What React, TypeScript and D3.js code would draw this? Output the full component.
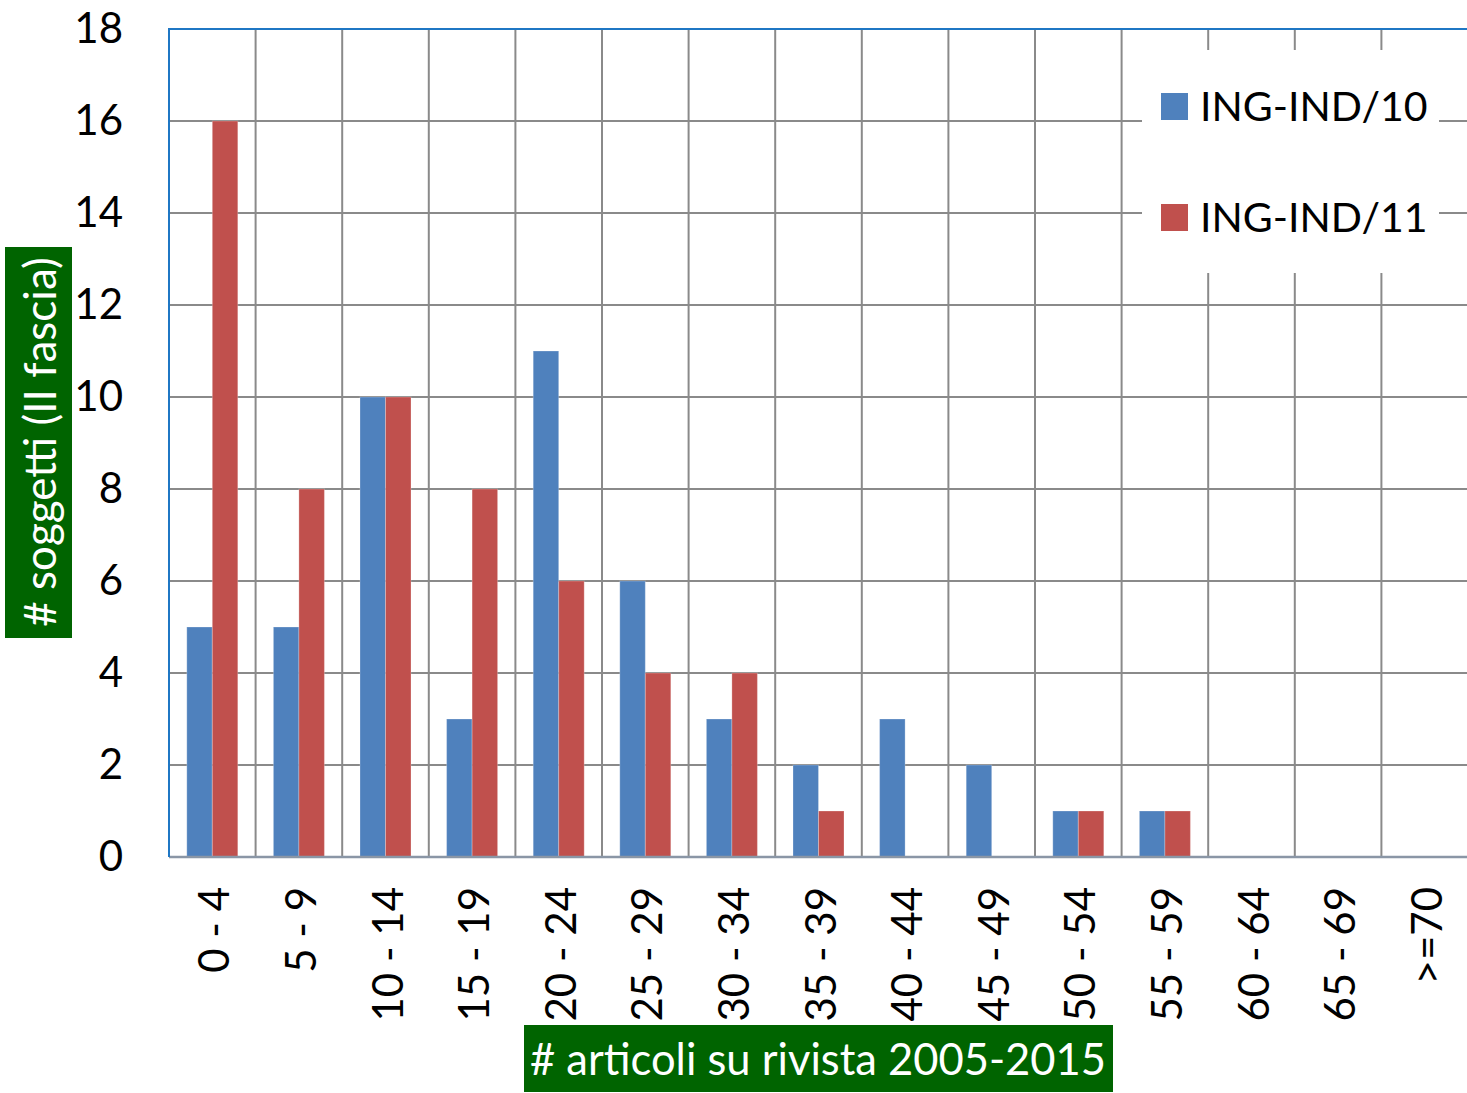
import React from 'react';
import * as d3 from 'd3';

const categories = ['0 - 4', '5 - 9', '10 - 14', '15 - 19', '20 - 24', '25 - 29', '30 - 34', '35 - 39', '40 - 44', '45 - 49', '50 - 54', '55 - 59', '60 - 64', '65 - 69', '>=70'];
const seriesNames = ['ING-IND/10', 'ING-IND/11'];
const ingInd10 = [5, 5, 10, 3, 11, 6, 3, 2, 3, 2, 1, 1, 0, 0, 0];
const ingInd11 = [16, 8, 10, 8, 6, 4, 4, 1, 0, 0, 1, 1, 0, 0, 0];
const yTicks = [0, 2, 4, 6, 8, 10, 12, 14, 16, 18];
const colors = ['#4F81BD', '#C0504D'];

const W = 1467;
const H = 1093;
const FONT = 'Lato, "Open Sans", sans-serif';

const App: React.FC = () => {
  const margin = { top: 29, left: 169, right: 1468, bottom: 857 };
  const y = d3.scaleLinear().domain([0, 18]).range([margin.bottom, margin.top]);
  const x0 = d3.scaleBand<string>().domain(categories).range([margin.left, margin.right]);
  const groupW = 51;
  const x1 = d3.scaleBand<string>().domain(seriesNames).range([0, groupW]);
  const values = [ingInd10, ingInd11];
  const grid = '#8a8a8a';

  return (
    <svg width={W} height={H} style={{ position: 'absolute', left: 0, top: 0, background: '#fff' }} fontFamily={FONT}>
      {/* horizontal grid */}
      {yTicks.map(t => (
        <line key={'h' + t} x1={margin.left} x2={margin.right} y1={y(t)} y2={y(t)} stroke={grid} strokeWidth={2} />
      ))}
      {/* vertical grid */}
      {categories.map(c => (
        <line key={'v' + c} x1={x0(c)!} x2={x0(c)!} y1={margin.top} y2={margin.bottom} stroke={grid} strokeWidth={2} />
      ))}
      {/* bars */}
      {seriesNames.map((s, si) =>
        categories.map((c, ci) => {
          const v = values[si][ci];
          if (!v) return null;
          const bx = x0(c)! + (x0.bandwidth() - groupW) / 2 + x1(s)!;
          return (
            <rect key={s + c} x={bx} y={y(v)} width={x1.bandwidth()} height={y(0) - y(v)}
              fill={colors[si]} stroke="#fff" strokeOpacity={0.25} strokeWidth={1} />
          );
        })
      )}
      {/* axes lines */}
      <line x1={margin.left} x2={margin.right} y1={margin.bottom} y2={margin.bottom} stroke="#8a96a6" strokeWidth={2.5} />
      <line x1={margin.left} x2={margin.right} y1={margin.top} y2={margin.top} stroke="#1f77c4" strokeWidth={2} />
      <line x1={margin.left} x2={margin.left} y1={margin.top - 1} y2={margin.bottom} stroke="#1f77c4" strokeWidth={2} />
      {/* y tick labels */}
      {yTicks.map(t => (
        <text key={'yt' + t} x={123} y={y(t) - 2} textAnchor="end" dominantBaseline="central" fontSize={42} fill="#000">{t}</text>
      ))}
      {/* x tick labels */}
      {categories.map(c => (
        <text key={'xt' + c} transform={`translate(${x0(c)! + x0.bandwidth() / 2 + 1},887) rotate(-90)`}
          textAnchor="end" dominantBaseline="central" fontSize={42} fill="#000">{c}</text>
      ))}
      {/* legend */}
      <rect x={1142} y={50} width={297} height={223} fill="#fff" />
      {seriesNames.map((s, i) => (
        <g key={'lg' + s} transform={`translate(1161,${93 + i * 111})`}>
          <rect width={27} height={27} fill={colors[i]} />
          <text x={39} y={12} dominantBaseline="central" fontSize={41} fill="#000">{s}</text>
        </g>
      ))}
      {/* y title */}
      <rect x={5} y={247} width={67} height={391} fill="#006400" />
      <text transform="translate(39,442) rotate(-90)" textAnchor="middle" dominantBaseline="central" fontSize={44} fill="#fff"># soggetti (II fascia)</text>
      {/* x title */}
      <rect x={524} y={1025} width={589} height={67} fill="#006400" />
      <text x={818} y={1058} textAnchor="middle" dominantBaseline="central" fontSize={43.5} fill="#fff"># articoli su rivista 2005-2015</text>
    </svg>
  );
};

export default App;
